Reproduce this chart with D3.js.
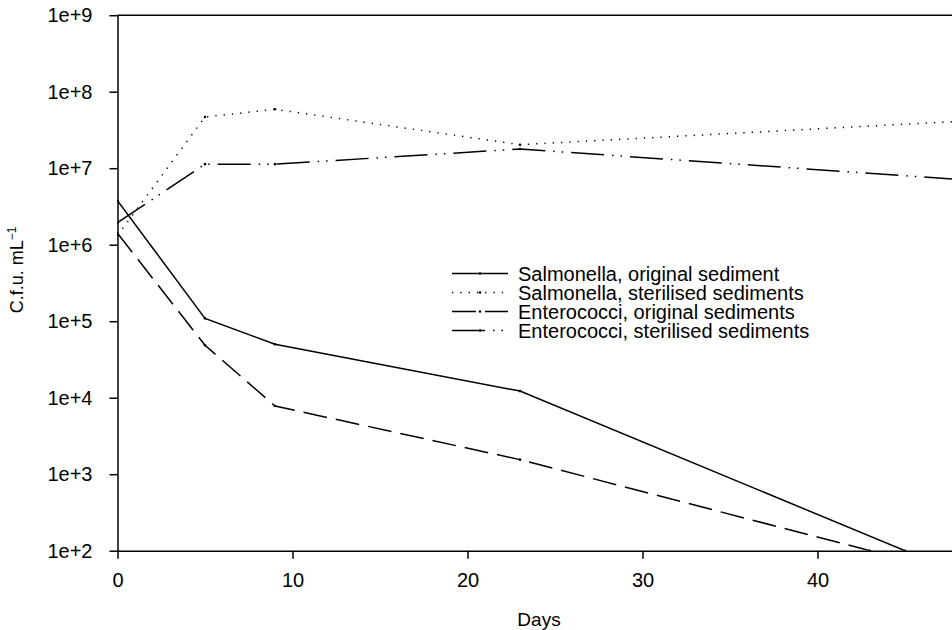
<!DOCTYPE html>
<html>
<head>
<meta charset="utf-8">
<script src="https://cdn.jsdelivr.net/npm/d3@7/dist/d3.min.js"></script>
<style>
    body { margin: 0; background: #fff; }
    svg { display: block; font-family: Arial, "Liberation Sans", sans-serif; }
</style>
</head>
<body>
<div id="chart"></div>
<script>
// values (C.f.u. per mL, log scale)
const salmOrigDays = [0, 5, 9, 23, 45]
const salmOrigValues = [3.76e6, 1.09e5, 4.99e4, 1.22e4, 100]

const salmSterDays = [0, 5, 9, 23, 50]
const salmSterValues = [1.32e6, 4.67e7, 5.89e7, 2.03e7, 4.33e7]

const enteOrigDays = [0, 5, 9, 23, 43]
const enteOrigValues = [1.41e6, 4.85e4, 7.78e3, 1.55e3, 100]

const enteSterDays = [0, 5, 9, 23, 50]
const enteSterValues = [1.94e6, 1.13e7, 1.13e7, 1.78e7, 6.64e6]

const seriesNames = ["Salmonella, original sediment", "Salmonella, sterilised sediments",
    "Enterococci, original sediments", "Enterococci, sterilised sediments"]

// 50 falls outside the visible picture, so only 0..40 get labels
const xTicks = [0, 10, 20, 30, 40]
const yTicks = [1e2, 1e3, 1e4, 1e5, 1e6, 1e7, 1e8, 1e9]

// dash styles for each series
const dashes = [null, "1.3,7", "24,9", "33,8,1.5,7,1.5,8"]

const W = 952, H = 630
const margin = { top: 15.2, left: 117.5, bottom: 630 - 550.7 }

// the plot runs past the right edge of the picture (day 50 sits outside)
var x = d3.scaleLinear().domain([0, 50]).range([margin.left, margin.left + 17.5 * 50])
var y = d3.scaleLog().domain([1e2, 1e9]).range([H - margin.bottom, margin.top])

var svg = d3.select("#chart").append("svg")
    .attr("width", W)
    .attr("height", H)

svg.append("defs").append("clipPath").attr("id", "plotclip")
    .append("rect")
    .attr("x", x(0)).attr("y", y(1e9) - 2)
    .attr("width", x(50) - x(0)).attr("height", y(1e2) - y(1e9) + 2)

let series = [
    { days: salmOrigDays, values: salmOrigValues },
    { days: salmSterDays, values: salmSterValues },
    { days: enteOrigDays, values: enteOrigValues },
    { days: enteSterDays, values: enteSterValues }
].map((s, i) => {
    return { name: seriesNames[i], dash: dashes[i], points: s.days.map((d, j) => [d, s.values[j]]) }
})

const line = d3.line()
    .x(d => x(d[0]))
    .y(d => y(d[1]))

let plot = svg.append("g").attr("clip-path", "url(#plotclip)")

series.forEach((s) => {
    plot.append("path")
        .datum(s.points)
        .attr("fill", "none")
        .attr("stroke", "#000")
        .attr("stroke-width", 1.5)
        .attr("stroke-dasharray", s.dash)
        .attr("d", line)

    plot.selectAll(null)
        .data(s.points)
        .enter().append("circle")
        .attr("cx", d => x(d[0]))
        .attr("cy", d => y(d[1]))
        .attr("r", 1.3)
        .attr("fill", "#000")
})

// axes
var yAxis = d3.axisLeft(y)
    .tickValues(yTicks)
    .tickSize(8)
    .tickSizeOuter(0)
    .tickPadding(17)
    .tickFormat(d => "1e+" + Math.round(Math.log10(d)))

var xAxis = d3.axisBottom(x)
    .tickValues(xTicks)
    .tickSize(8)
    .tickSizeOuter(0)
    .tickPadding(14)
    .tickFormat(d3.format("d"))

let gy = svg.append("g")
    .attr("transform", "translate(" + x(0) + ",0)")
    .call(yAxis)

let gx = svg.append("g")
    .attr("transform", "translate(0," + y(1e2) + ")")
    .call(xAxis)

;[gx, gy].forEach(g => {
    g.selectAll("path, line").attr("stroke", "#000").attr("stroke-width", 1.5)
    g.selectAll("text").attr("font-size", 20).attr("fill", "#000")
        .attr("font-family", "Arial, 'Liberation Sans', sans-serif")
})

// top frame line
svg.append("line")
    .attr("x1", x(0)).attr("x2", x(50))
    .attr("y1", y(1e9)).attr("y2", y(1e9))
    .attr("stroke", "#000")
    .attr("stroke-width", 1.5)

// axis titles
svg.append("text")
    .attr("x", 539)
    .attr("y", 626)
    .attr("text-anchor", "middle")
    .attr("font-size", 19)
    .text("Days")

let ylab = svg.append("text")
    .attr("transform", "translate(23,270) rotate(-90)")
    .attr("text-anchor", "middle")
    .attr("font-size", 18)
ylab.append("tspan").text("C.f.u. mL")
ylab.append("tspan").attr("dy", -7).attr("font-size", 12).text("\u22121")

// legend
let legend = svg.append("g")
const legX1 = 452, legX2 = 508, legTextX = 518, legY0 = 273.5, legStep = 19

series.forEach((s, i) => {
    let ly = legY0 + i * legStep
    legend.append("line")
        .attr("x1", legX1).attr("x2", legX2)
        .attr("y1", ly).attr("y2", ly)
        .attr("stroke", "#000")
        .attr("stroke-width", 1.5)
        .attr("stroke-dasharray", s.dash)
    legend.append("circle")
        .attr("cx", (legX1 + legX2) / 2)
        .attr("cy", ly)
        .attr("r", 1.3)
        .attr("fill", "#000")
    legend.append("text")
        .attr("x", legTextX)
        .attr("y", ly)
        .attr("dy", "0.35em")
        .attr("font-size", 20)
        .text(s.name)
})
</script>
</body>
</html>
